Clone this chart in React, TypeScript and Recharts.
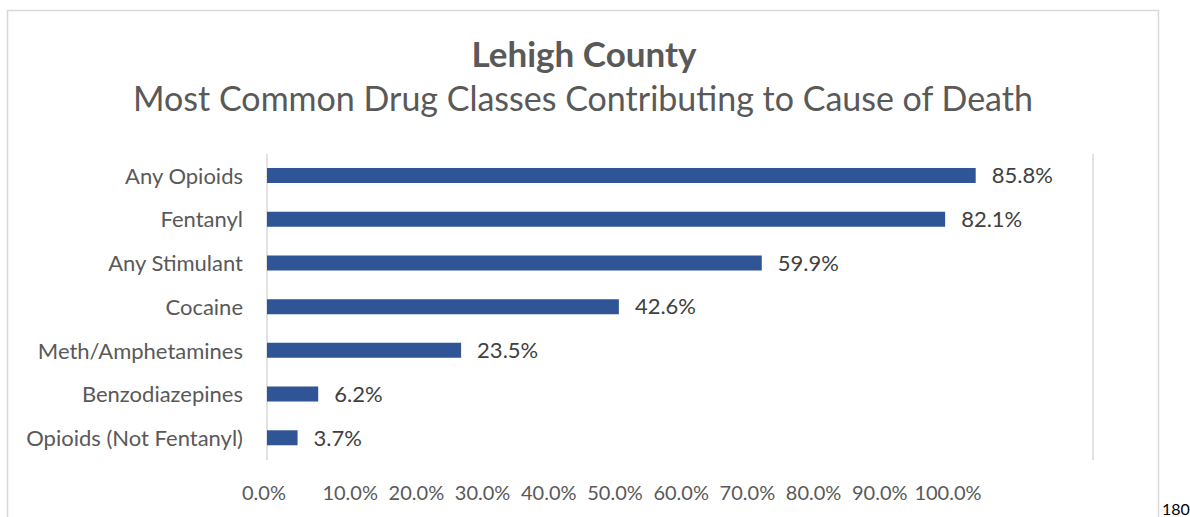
import React from "react";
import { BarChart, Bar, XAxis, YAxis, CartesianGrid, LabelList } from "recharts";

const categories = [
  "Any Opioids",
  "Fentanyl",
  "Any Stimulant",
  "Cocaine",
  "Meth/Amphetamines",
  "Benzodiazepines",
  "Opioids (Not Fentanyl)",
];
const values = [85.8, 82.1, 59.9, 42.6, 23.5, 6.2, 3.7];
const tickValues = [0, 10, 20, 30, 40, 50, 60, 70, 80, 90, 100];
const titleText = "Lehigh County";
const subtitleText = "Most Common Drug Classes Contributing to Cause of Death";
const pageNumber = "180";

const data = categories.map((name, i) => ({ name, value: values[i] }));

const FONT = "Lato, 'Open Sans', sans-serif";

const XTick = (props: any) => {
  const { x, y, payload } = props;
  const v = payload.value as number;
  return (
    <text
      x={x + (v === 0 ? -20 : v === 100 ? 2 : 0)}
      y={y}
      dy={40}
      textAnchor="middle"
      fill="#595959"
      fontSize={20}
      fontFamily={FONT}
    >
      {v.toFixed(1) + "%"}
    </text>
  );
};

export default function App() {
  return (
    <div
      style={{
        position: "absolute",
        left: 0,
        top: 0,
        width: 1190,
        height: 517,
        background: "#fff",
        fontFamily: FONT,
        overflow: "hidden",
      }}
    >
      <svg
        width={1190}
        height={517}
        style={{ position: "absolute", left: 0, top: 0 }}
      >
        <rect x={7.5} y={10.5} width={1151} height={600} fill="#fff" stroke="#d9d9d9" strokeWidth={1.5} />
        <text x={584} y={67} textAnchor="middle" fontSize={35} fontWeight="bold" fill="#595959" fontFamily={FONT}>
          {titleText}
        </text>
        <text x={583} y={111} textAnchor="middle" fontSize={34} fill="#595959" fontFamily={FONT}>
          {subtitleText}
        </text>
        <text x={1162} y={515} fontSize={16} fill="#000" fontFamily={FONT}>
          {pageNumber}
        </text>
      </svg>
      <div style={{ position: "absolute", left: 0, top: 0 }}>
        <BarChart
          width={1190}
          height={517}
          data={data}
          layout="vertical"
          margin={{ top: 154, right: 97, bottom: 17, left: 7 }}
        >
          <CartesianGrid xAxisId="main" horizontal={false} stroke="#d9d9d9" strokeWidth={1.5} />
          <XAxis
            xAxisId="main"
            type="number"
            domain={[0, 100]}
            ticks={tickValues}
            tick={false}
            axisLine={false}
            tickLine={false}
            height={0}
            allowDataOverflow
          />
          <XAxis
            xAxisId="lbl"
            type="number"
            domain={[0, 100]}
            ticks={tickValues}
            padding={{ left: 17, right: 147 }}
            axisLine={false}
            tickLine={false}
            tickSize={0}
            tickMargin={0}
            height={40}
            tick={<XTick />}
            interval={0}
            allowDataOverflow
          />
          <YAxis
            type="category"
            dataKey="name"
            width={260}
            axisLine={false}
            tickLine={false}
            tickSize={0}
            tickMargin={24}
            interval={0}
            tick={{ fill: "#595959", fontSize: 22, fontFamily: FONT }}
          />
          <Bar xAxisId="main" dataKey="value" fill="#2F5597" barSize={15} isAnimationActive={false}>
            <LabelList
              dataKey="value"
              position="right"
              offset={16}
              fill="#404040"
              fontSize={22}
              fontFamily={FONT}
              formatter={(v: any) => Number(v).toFixed(1) + "%"}
            />
          </Bar>
        </BarChart>
      </div>
    </div>
  );
}
